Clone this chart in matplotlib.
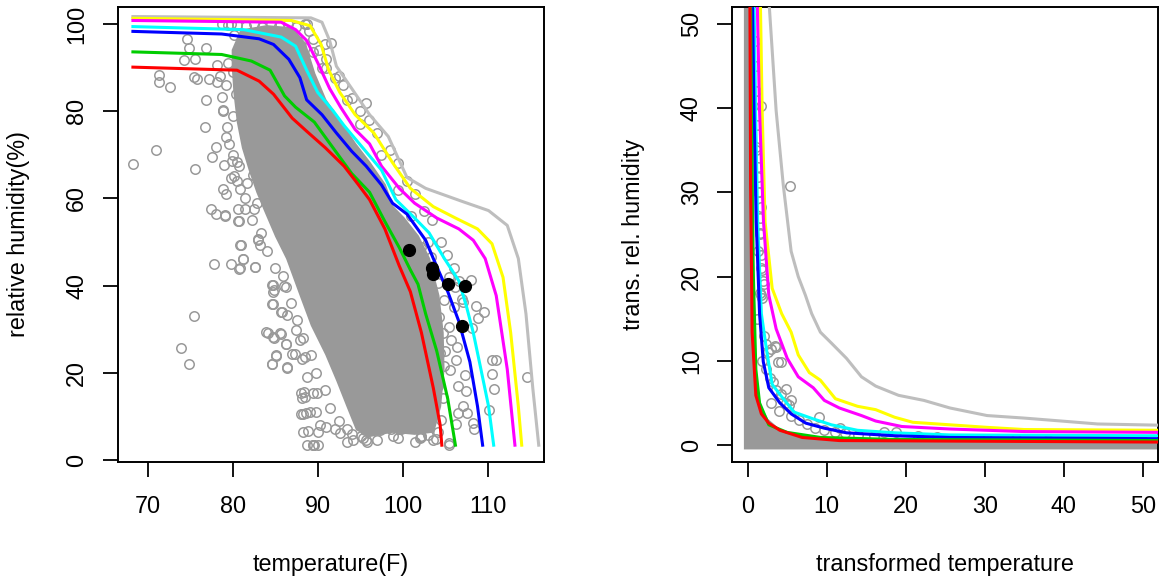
import matplotlib
matplotlib.use("Agg")
import matplotlib.pyplot as plt
from matplotlib.patches import Polygon
import numpy as np

plt.rcParams['font.family'] = ['Liberation Sans', 'DejaVu Sans']

# ---------------- Left panel data ----------------
curve_colors = ["#BEBEBE", "#FFFF00", "#FF00FF", "#00FFFF", "#0000FF", "#00CD00", "#FF0000"]

gray_x = [68.26, 89.2, 90.5, 91.4, 92.2, 94.0, 96.1, 98.3, 100.5, 102.7, 107.0, 110.1, 112.3, 113.6, 114.5, 115.3, 116.0]
gray_y = [101.7, 101.4, 100.4, 96.2, 90.3, 85.2, 79.2, 74.2, 64.8, 62.3, 59.3, 57.2, 53.8, 46.2, 33.5, 16.5, 3.4]
yellow_x = [68.26, 86.9, 89.1, 90.4, 91.3, 92.6, 94.4, 96.6, 98.8, 100.9, 103.6, 106.2, 108.8, 110.5, 111.8, 112.7, 113.6, 114.0]
yellow_y = [101.3, 100.8, 99.6, 95.3, 89.4, 84.3, 79.2, 75.0, 68.2, 62.3, 58.1, 55.5, 53.0, 49.6, 41.9, 29.2, 12.3, 3.4]
magenta_x = [68.26, 85.7, 87.4, 88.7, 90.0, 91.4, 92.7, 94.4, 96.1, 97.5, 99.6, 101.4, 104.0, 106.6, 108.3, 109.7, 111.0, 112.3, 113.2]
magenta_y = [100.8, 100.4, 98.7, 96.2, 91.1, 85.2, 80.9, 75.8, 72.5, 67.4, 62.3, 58.9, 55.5, 53.0, 50.4, 46.2, 37.7, 20.8, 3.4]
cyan_x = [68.26, 81.3, 85.7, 87.4, 88.7, 90.0, 91.8, 93.1, 95.3, 97.5, 99.2, 101.4, 103.1, 104.9, 106.6, 107.5, 108.3, 109.2, 110.1, 110.7]
cyan_y = [99.4, 98.7, 97.0, 94.9, 89.4, 84.3, 80.1, 76.7, 71.6, 66.5, 59.7, 55.5, 52.1, 46.2, 41.1, 35.2, 29.2, 20.8, 12.3, 3.4]
blue_x = [68.26, 78.7, 83.1, 84.8, 86.6, 87.9, 88.7, 90.5, 92.2, 94.0, 95.7, 97.5, 98.8, 100.5, 102.7, 103.6, 105.3, 106.6, 107.9, 108.8, 109.4]
blue_y = [98.3, 97.7, 96.6, 95.3, 91.9, 87.7, 82.6, 79.2, 75.0, 70.8, 67.4, 63.1, 58.9, 56.4, 50.4, 46.2, 38.6, 31.8, 22.5, 12.3, 3.4]
green_x = [68.26, 78.7, 82.2, 84.4, 86.1, 87.4, 89.6, 91.8, 94.0, 96.1, 97.9, 99.6, 100.9, 101.8, 102.7, 104.0, 105.3, 106.2]
green_y = [93.6, 93.0, 91.5, 89.4, 83.5, 80.9, 77.5, 71.6, 65.7, 61.4, 54.7, 48.7, 43.6, 40.3, 33.5, 25.0, 14.0, 3.4]
red_x = [68.26, 80.5, 83.1, 84.8, 87.0, 88.7, 90.9, 93.1, 94.8, 96.1, 97.9, 99.6, 100.9, 102.2, 103.6, 104.4, 104.6]
red_y = [90.1, 89.4, 86.9, 83.9, 78.4, 75.4, 71.6, 67.4, 63.1, 59.7, 53.0, 44.5, 38.6, 29.2, 16.5, 8.1, 3.4]

left_curves_x = [gray_x, yellow_x, magenta_x, cyan_x, blue_x, green_x, red_x]
left_curves_y = [gray_y, yellow_y, magenta_y, cyan_y, blue_y, green_y, red_y]

# dense core of the scatter cloud (area that reads as solid gray)
core_x = [80.0, 81.0, 84.0, 87.0, 88.5, 89.6, 90.9, 92.7, 94.4, 96.1, 97.9, 98.8, 100.1, 101.8, 103.1, 104.2,
          104.7, 104.8, 104.4, 103.6, 101.4, 98.8, 96.1, 94.6, 93.5, 92.3, 91.0, 89.3, 88.0, 86.4, 85.1, 83.8,
          82.9, 82.0, 81.2, 80.6, 80.2, 80.0]
core_y = [94.0, 98.5, 99.5, 99.0, 95.5, 88.6, 82.6, 77.5, 72.5, 68.2, 63.1, 58.1, 55.5, 51.3, 46.2, 37.7,
          29.2, 20.8, 12.3, 6.5, 6.0, 6.5, 5.5, 7.0, 12.3, 18.2, 24.2, 30.9, 37.7, 46.2, 51.3, 57.2,
          61.4, 66.5, 71.6, 77.5, 84.3, 90.3]

# individual circles (outliers and fringe)
pts_x = [68.3, 71.0, 71.3, 71.3, 72.6, 74.6, 74.8, 74.3, 75.6, 76.9, 78.2, 76.8, 76.7, 75.4, 75.8, 77.2, 78.2,
         75.6, 77.6, 78.0, 79.0, 79.3, 78.9, 78.7, 80.5, 80.7, 79.8, 80.2, 78.9, 79.2, 80.9, 77.4, 78.0, 79.1,
         79.1, 80.6, 80.6, 81.5, 82.5, 82.4, 81.0, 83.0, 83.2, 77.8, 79.8, 80.8, 81.2, 82.6, 75.4, 73.9, 74.8,
         83.9, 84.7, 85.6, 86.3, 84.6, 85.1, 86.4, 84.7, 84.7, 84.6, 85.9, 86.3, 85.7, 86.4, 87.5, 87.9, 87.0,
         88.1, 88.7, 88.0, 88.1, 88.0, 89.1, 88.3, 88.7, 89.4, 89.5, 90.3,
         78.7, 79.8, 88.7, 90.9, 91.6, 95.7,
         109.6, 110.5, 111.0, 110.5, 110.7, 110.2, 114.6, 108.6, 108.8, 108.1, 107.1, 105.4, 105.7, 106.4,
         106.3, 105.6, 107.3, 107.5, 107.1, 108.3, 108.4, 107.6, 106.5, 106.3, 105.4, 103.9, 102.2, 103.7,
         103.2, 101.8, 102.9, 104.5, 104.7, 104.1, 104.9, 104.4, 104.0, 104.7, 104.3, 104.9, 106.1, 108.0,
         103.3, 102.1, 104.2,
         93.5, 95.1, 95.7, 89.6, 90.0, 88.3, 98.8, 99.8, 102.0, 103.6, 105.5, 100.9,
         80.7, 80.9, 81.2, 80.7, 82.6, 83.0, 84.6, 84.8, 84.7, 85.8, 84.1, 84.9, 85.7, 86.3, 85.1, 84.6, 86.4,
         87.3, 88.5, 88.4, 88.5, 89.9, 88.6, 89.8, 88.9, 89.4, 90.0, 91.0, 92.0, 92.6, 94.1, 95.3, 95.8, 95.6,
         97.3, 98.6, 99.6, 102.2, 101.6,
         79.5, 80.5, 81.6, 82.5, 83.5, 84.5, 85.5, 86.5, 87.5, 88.5, 89.0, 80.2, 81.0, 82.0, 83.0, 84.0, 85.0,
         86.0, 87.0, 88.0, 89.5, 90.2, 91.0, 80.5, 81.3, 79.5, 80.0, 80.8, 81.5, 82.5, 79.2, 80.4, 81.0, 80.0,
         91.0, 92.5, 93.0, 94.0, 95.0, 96.0, 97.0, 98.5, 99.5, 100.5, 101.5, 102.5, 103.5, 104.5, 105.2, 106.0,
         106.6, 107.0, 89.5, 90.5, 92.0, 93.5, 95.0, 97.5, 99.5, 101.0, 103.0, 105.5, 106.0, 105.0, 106.5,
         78.5, 78.8, 79.2, 80.0, 80.5, 81.5, 82.3, 83.3, 84.0, 85.0, 86.0, 86.8, 87.6, 88.3, 89.2, 89.8, 90.8,
         91.5, 92.5, 93.5, 79.6, 79.9, 81.7, 82.8,
         97.0, 99.5, 101.5, 103.0, 104.2, 94.0]
pts_y = [67.9, 71.0, 88.3, 86.6, 85.5, 96.5, 94.6, 91.7, 91.9, 94.6, 90.7, 82.6, 76.4, 87.9, 87.4, 87.4, 86.8,
         66.7, 69.6, 71.7, 67.6, 76.4, 80.2, 83.3, 68.4, 67.4, 64.6, 65.2, 62.2, 61.0, 62.1, 57.6, 56.4, 56.2,
         56.0, 57.5, 54.7, 57.5, 57.5, 65.3, 49.2, 50.6, 49.2, 45.0, 45.0, 44.0, 46.2, 44.2, 33.0, 25.8, 22.0,
         29.3, 28.1, 29.1, 26.6, 22.0, 23.9, 21.2, 40.1, 38.6, 35.8, 42.1, 39.7, 34.0, 33.2, 29.8, 27.5, 24.4,
         23.1, 19.1, 15.3, 14.2, 10.6, 11.1, 6.5, 3.5, 3.5, 15.3, 8.0,
         100.0, 100.0, 100.0, 95.3, 95.7, 81.8,
         34.0, 22.9, 22.9, 19.8, 16.3, 11.5, 19.1, 35.3, 32.5, 30.2, 36.3, 30.6, 27.5, 26.0,
         23.0, 20.7, 19.6, 15.8, 12.4, 8.6, 7.1, 10.8, 10.8, 8.2, 3.8, 4.9, 5.4, 13.8,
         17.8, 10.0, 9.2, 9.2, 14.2, 16.9, 21.5, 24.5, 26.8, 29.1, 32.9, 36.8, 39.7, 41.3,
         46.6, 48.9, 40.5,
         4.2, 5.5, 4.7, 3.4, 6.4, 10.6, 5.5, 7.2, 5.1, 4.7, 3.4, 10.6,
         54.7, 49.3, 46.2, 43.8, 44.2, 50.5, 40.1, 39.1, 35.8, 34.0, 29.2, 28.0, 29.0, 26.6, 24.1, 22.0, 21.4,
         24.3, 23.7, 15.5, 14.5, 15.3, 10.7, 11.1, 6.6, 3.4, 3.4, 7.6, 7.0, 6.1, 4.6, 5.0, 4.2, 6.9,
         6.9, 7.2, 7.2, 5.2, 7.6,
         99.8, 99.8, 99.5, 100.0, 99.2, 100.0, 99.6, 100.0, 99.4, 100.0, 98.5, 97.5, 96.0, 97.8, 95.5, 97.0, 95.0,
         96.8, 97.5, 95.8, 96.5, 94.0, 92.0, 93.0, 94.5, 91.0, 89.0, 87.0, 90.0, 92.5, 86.0, 84.0, 81.0, 79.0,
         90.0, 88.0, 86.0, 83.0, 80.0, 78.0, 75.0, 71.0, 68.0, 64.0, 61.0, 57.0, 55.0, 50.0, 47.0, 44.0,
         41.0, 37.0, 93.5, 90.0, 87.5, 82.5, 77.0, 70.0, 62.0, 56.0, 50.0, 42.0, 35.0, 25.0, 17.0,
         88.0, 80.0, 74.0, 70.0, 64.0, 60.0, 55.0, 52.0, 48.0, 44.0, 40.0, 36.0, 32.0, 28.0, 24.0, 20.0, 16.0,
         12.0, 9.0, 7.0, 72.5, 68.5, 63.5, 59.0,
         4.5, 5.0, 4.2, 5.8, 6.5, 6.0]

big_x = [100.7, 103.5, 103.6, 105.3, 107.3, 107.0]
big_y = [48.1, 44.1, 42.6, 40.4, 40.0, 30.7]

# ---------------- Right panel data ----------------
r_gray_x = [2.67, 3.6, 4.5, 5.5, 6.4, 7.3, 8.1, 9.2, 10.6, 12.5, 14.4, 16.2, 19.1, 22.3, 25.6, 30.3, 35.0, 39.7, 44.3, 52.5]
r_gray_y = [53.0, 39.7, 30.9, 23.0, 20.0, 17.8, 15.6, 13.4, 12.1, 10.3, 8.1, 7.0, 5.9, 5.3, 4.4, 3.5, 3.2, 2.85, 2.5, 2.35]
r_yellow_x = [1.6, 1.83, 2.2, 3.1, 4.3, 5.5, 6.4, 7.8, 9.2, 11.1, 13.9, 16.2, 18.6, 20.9, 25.6, 30.3, 35.0, 52.5]
r_yellow_y = [53.0, 39.7, 26.5, 18.6, 15.6, 13.4, 10.7, 8.6, 7.7, 5.5, 4.6, 4.2, 3.3, 2.7, 2.4, 2.1, 1.84, 1.75]
r_magenta_x = [1.2, 1.5, 2.0, 2.67, 3.6, 5.0, 6.4, 8.3, 9.7, 11.6, 14.4, 16.2, 19.5, 25.6, 35.0, 52.5]
r_magenta_y = [53.0, 39.7, 26.5, 17.8, 13.8, 10.3, 8.1, 6.8, 5.3, 4.4, 3.5, 2.85, 2.2, 1.9, 1.6, 1.5]
r_cyan_x = [0.8, 1.0, 1.26, 1.73, 2.4, 3.1, 4.5, 5.9, 8.3, 10.6, 13.9, 18.6, 25.6, 52.5]
r_cyan_y = [53.0, 39.7, 26.5, 15.6, 11.2, 7.2, 5.5, 3.9, 3.1, 2.4, 1.75, 1.45, 1.2, 1.1]
r_blue_x = [0.6, 0.8, 1.08, 1.5, 1.97, 2.67, 4.07, 5.5, 7.35, 9.7, 12.5, 18.6, 25.6, 52.5]
r_blue_y = [53.0, 39.7, 26.5, 15.6, 9.9, 6.8, 5.0, 3.7, 2.6, 2.0, 1.45, 1.1, 0.9, 0.75]
r_green_x = [0.37, 0.47, 0.66, 1.03, 1.5, 2.67, 5.0, 9.2, 18.6, 52.5]
r_green_y = [53.0, 39.7, 22.1, 9.0, 5.0, 2.4, 1.5, 0.9, 0.66, 0.53]
r_red_x = [0.28, 0.37, 0.56, 1.03, 1.73, 2.67, 4.07, 6.9, 11.6, 52.5]
r_red_y = [53.0, 30.9, 13.4, 5.9, 3.7, 2.6, 1.75, 0.9, 0.53, 0.35]

right_curves_x = [r_gray_x, r_yellow_x, r_magenta_x, r_cyan_x, r_blue_x, r_green_x, r_red_x]
right_curves_y = [r_gray_y, r_yellow_y, r_magenta_y, r_cyan_y, r_blue_y, r_green_y, r_red_y]

rcore_x = [-0.35, -0.35, 0.7, 0.72, 0.9, 1.1, 1.6, 2.5, 4.0, 6.0, 10.0, 20.0, 53.0, 53.0]
rcore_y = [-0.4, 53.0, 53.0, 20.0, 12.0, 7.0, 4.5, 3.0, 1.8, 1.1, 0.7, 0.55, 0.5, -0.4]

rpts_x = [5.3, 1.73, 1.87, 2.06, 1.73, 3.0, 3.6, 3.8, 4.2, 3.5, 4.8, 5.5, 9.0, 11.7, 17.2, 18.8, 21.6, 26.5, 30.3, 43.4,
          1.64, 1.5, 1.73, 1.03, 1.26, 1.36, 1.0, 0.9, 1.1, 1.2, 1.0, 1.3, 1.4, 1.5, 1.6, 1.3, 1.7, 1.9, 1.5, 1.8,
          1.2, 2.0, 2.3, 2.6, 1.8, 2.3, 2.8, 3.2, 3.6, 4.2, 4.8, 5.2, 3.0, 4.0, 5.5, 6.5, 7.5, 8.5, 9.7, 11.0,
          12.3, 14.0, 16.0, 24.0, 34.0, 38.0, 47.0, 50.0]
rpts_y = [30.8, 40.2, 20.8, 19.1, 17.8, 11.4, 11.6, 9.9, 9.9, 11.8, 6.7, 5.3, 3.3, 2.0, 1.6, 1.5, 1.1, 0.66, 0.66, 0.44,
          28.3, 25.2, 22.6, 35.4, 31.8, 30.0, 45.0, 48.0, 42.0, 38.0, 35.0, 33.0, 30.0, 27.0, 25.0, 23.0, 21.0, 19.5,
          18.0, 17.5, 15.0, 13.0, 12.0, 11.0, 10.0, 9.0, 8.0, 7.5, 6.5, 6.0, 5.0, 4.7, 5.0, 4.0, 3.5, 3.0, 2.5, 2.0,
          1.8, 1.5, 1.4, 1.2, 1.1, 0.9, 0.7, 0.6, 0.6, 0.5]

left_xticks = [70, 80, 90, 100, 110]
left_yticks = [0, 20, 40, 60, 80, 100]
right_xticks = [0, 10, 20, 30, 40, 50]
right_yticks = [0, 10, 20, 30, 40, 50]

PT_COL = "#999999"
W, H = 1160, 579
fig = plt.figure(figsize=(W / 100, H / 100), dpi=100)

ax1 = fig.add_axes([117.7 / W, 1 - 461.7 / H, (544 - 117.7) / W, (461.7 - 6.7) / H])
ax2 = fig.add_axes([732.3 / W, 1 - 461.7 / H, (1158 - 732.3) / W, (461.7 - 6.7) / H])

FS = 16.8
TICK_PX = 15


def style(ax, xticks, yticks, xlabel, ylabel):
    ax.set_xticks(xticks)
    ax.set_yticks(yticks)
    ax.tick_params(direction='out', length=TICK_PX * 0.72, width=1.3, labelsize=FS, color='black')
    ax.tick_params(axis='y', pad=(41 - TICK_PX) * 0.72)
    ax.tick_params(axis='x', pad=(45 - TICK_PX) * 0.72)
    for lab in ax.get_yticklabels():
        lab.set_rotation(90)
        lab.set_ha('center')
        lab.set_va('center')
    for lab in ax.get_xticklabels():
        lab.set_va('center')
    for s in ax.spines.values():
        s.set_linewidth(1.4)
    ax.set_xlabel(xlabel, fontsize=FS)
    ax.set_ylabel(ylabel, fontsize=FS)
    ax.xaxis.set_label_coords(0.5, -103 / 455)
    ax.xaxis.label.set_va('center')
    ax.yaxis.set_label_coords(-99 / 426.3, 0.5)
    ax.yaxis.label.set_va('center')


# Left panel
ax1.add_patch(Polygon(np.column_stack([core_x, core_y]), closed=True, facecolor=PT_COL,
                      edgecolor=PT_COL, linewidth=1.5, zorder=1))
ax1.plot(pts_x, pts_y, 'o', mfc='none', mec=PT_COL, ms=6.8, mew=1.1, zorder=2)
for cx, cy, col in zip(left_curves_x, left_curves_y, curve_colors):
    ax1.plot(cx, cy, '-', color=col, lw=2.2, zorder=3)
ax1.plot(big_x, big_y, 'o', color='black', ms=8.5, zorder=4)
ax1.set_xlim(66.47, 116.62)
ax1.set_ylim(-0.39, 103.96)
style(ax1, left_xticks, left_yticks, "temperature(F)", "relative humidity(%)")

# Right panel
ax2.add_patch(Polygon(np.column_stack([rcore_x, rcore_y]), closed=True, facecolor=PT_COL,
                      edgecolor=PT_COL, linewidth=1.5, zorder=1))
ax2.plot(rpts_x, rpts_y, 'o', mfc='none', mec=PT_COL, ms=6.8, mew=1.1, zorder=2)
for cx, cy, col in zip(right_curves_x, right_curves_y, curve_colors):
    ax2.plot(cx, cy, '-', color=col, lw=2.2, zorder=3)
ax2.set_xlim(-1.95, 51.94)
ax2.set_ylim(-1.98, 52.05)
style(ax2, right_xticks, right_yticks, "transformed temperature", "trans. rel. humidity")

fig.savefig("out.png", dpi=100)
